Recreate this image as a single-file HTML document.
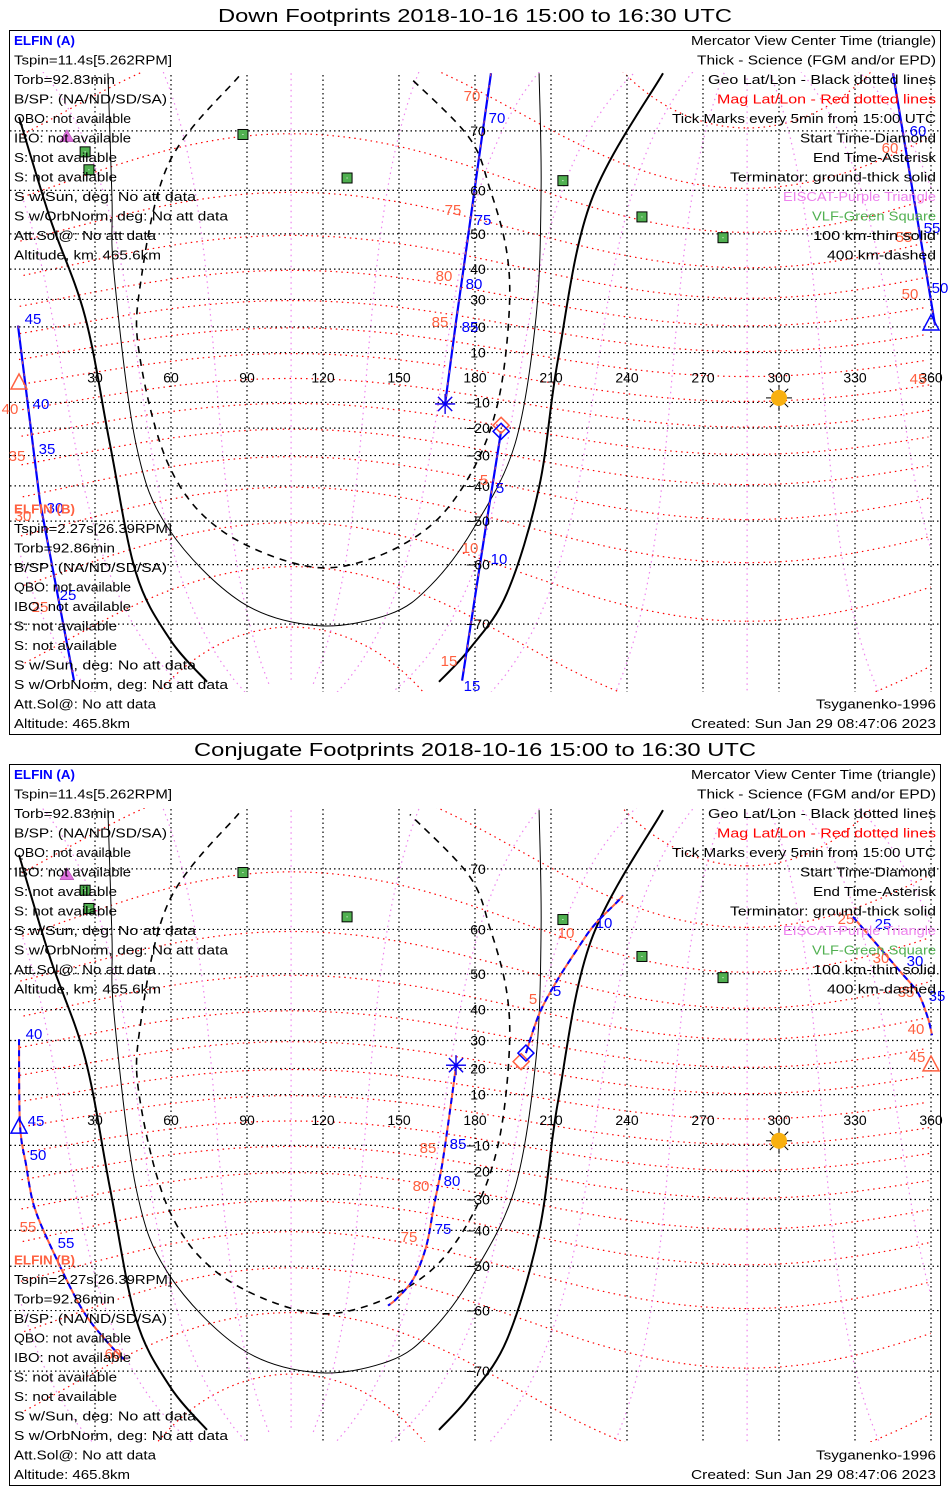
<!DOCTYPE html>
<html><head><meta charset="utf-8">
<style>
html,body{margin:0;padding:0;background:#fff;width:950px;height:1500px;overflow:hidden;position:relative;}
svg{display:block;position:absolute;left:0;top:0;font-family:"Liberation Sans",sans-serif;}
</style></head>
<body>
<svg id="root" xmlns="http://www.w3.org/2000/svg" width="950" height="1500" viewBox="0 0 950 1500" overflow="hidden">
<defs>
<clipPath id="clipTop"><rect x="10" y="72" width="930" height="620"/></clipPath>
<clipPath id="clipBot"><rect x="10" y="808" width="930" height="634"/></clipPath>
</defs>
<rect x="0" y="0" width="950" height="1500" fill="#fff"/>
</svg>
<script>
// ---- chart data (geographic lon/lat, degrees) ----
const lonTicks=[30,60,90,120,150,180,210,240,270,300,330,360];
const latTicks=[70,60,50,40,30,20,10,-10,-20,-30,-40,-50,-60,-70];
const magLatLevels=[-80,-70,-60,-50,-40,-30,-20,-10,0,10,20,30,40,50,60,70,80];
const magLonLevels=[0,30,60,90,120,150,180,210,240,270,300,330];
// terminators / altitude curves
const termL_lon=[0,12.2,26.1,35.9,46.1,59.6,74.2];
const termL_lat=[71.8,54.0,23.8,-25.9,-61.5,-72.0,-76.6];
const termR_lon=[254.2,225.8,212.8,205.3,192.6,178.0,165.8];
const termR_lat=[76.6,57.7,7.5,-40.4,-65.3,-73.1,-76.6];
const thin_lon=[35.1,36.7,37.5,46.2,59.2,87.6,117.6,146.1,162.6,179.2,195.8,204.1,206.1,205.3];
const thin_lat=[76.6,58.3,38.6,-25.9,-52.1,-66.7,-70.2,-68.6,-63.9,-52.1,-25.9,23.8,60.3,76.6];
const dash_lon=[86.8,59.2,47.8,47.8,59.2,79.3,112.5,137.8,162.6,179.2,189.1,193.4,192.6,185.9,177.6,154.3];
const dash_lat=[76.3,65.1,34.5,7.5,-33.5,-52.1,-60.2,-59.0,-51.1,-34.8,-9.8,23.8,44.8,60.3,69.1,76.2];
// tracks, Down footprints
const topA_lon=[186.3,182.0,177.2,172.5,168.2];
const topA_lat=[76.6,67.2,49.0,21.9,-10.6];
const topB_lon=[190.3,184.0,174.9];
const topB_lat=[-21.2,-52.6,-76.5];
const topL_lon=[-0.4,8.3,21.7];
const topL_lat=[20.5,-44.8,-76.5];
const topR_lon=[345.0,361.6];
const topR_lat=[76.6,20.5];
// tracks, Conjugate footprints
const botA_lon=[172.5,170.5,167.0,163.8,160.7,155.5,148.8,145.7];
const botA_lat=[21.2,6.3,-17.5,-32.1,-44.8,-53.3,-57.7,-59.0];
const botB_lon=[200.1,205.3,212.0,220.3,227.0,236.8,238.4];
const botB_lat=[25.6,38.6,47.8,55.8,60.8,65.3,66.1];
const botL_lon=[0,0.4,2.8,5.9,12.6,24.5,34.3,41.8];
const botL_lat=[30.4,-2.0,-17.5,-32.1,-44.8,-59.4,-65.4,-68.5];
const botR_lon=[329.2,336.7,347.8,354.9,358.8,360.4];
const botR_lat=[62.4,58.1,50.6,44.8,37.3,31.8];
// stations
const vlf_lon=[88.4,26.1,27.6,129.5,214.7,245.9,277.9];
const vlf_lat=[69.5,66.9,63.9,62.4,61.9,54.2,49.0];
const eiscat_lon=[19.3,18.9];
const eiscat_lat=[77.4,69.2];
const sun_lon=[300];
const sun_lat=[-8.2];

const NS="http://www.w3.org/2000/svg";
const root=document.getElementById('root');
function mk(tag,attrs,parent){const e=document.createElementNS(NS,tag);for(const k in attrs)e.setAttribute(k,attrs[k]);(parent||root).appendChild(e);return e;}
function xOf(lon){return 19+lon*76/30;}
function yOf(lat,P){return P.eq-P.R*Math.log(Math.tan(Math.PI/4+lat*Math.PI/360));}
function pts(lons,lats,P){return lons.map((l,i)=>xOf(l).toFixed(1)+','+yOf(lats[i],P).toFixed(1)).join(' ');}
function smooth(lons,lats,P){
  const p=lons.map((l,i)=>[xOf(l),yOf(lats[i],P)]);
  let d='M'+p[0][0].toFixed(1)+','+p[0][1].toFixed(1);
  for(let i=0;i<p.length-1;i++){
    const p0=p[Math.max(0,i-1)],p1=p[i],p2=p[i+1],p3=p[Math.min(p.length-1,i+2)];
    const c1=[p1[0]+(p2[0]-p0[0])/6,p1[1]+(p2[1]-p0[1])/6];
    const c2=[p2[0]-(p3[0]-p1[0])/6,p2[1]-(p3[1]-p1[1])/6];
    d+=' C'+c1.map(v=>v.toFixed(1)).join(',')+' '+c2.map(v=>v.toFixed(1)).join(',')+' '+p2[0].toFixed(1)+','+p2[1].toFixed(1);
  }
  return d;
}
function magToGeo(mlat,mlon){
  const d=Math.PI/180,th=9.6*d,ph=-72.6*d;
  const xm=Math.cos(mlat*d)*Math.cos(mlon*d),ym=Math.cos(mlat*d)*Math.sin(mlon*d),zm=Math.sin(mlat*d);
  const x1=xm*Math.cos(th)+zm*Math.sin(th),z1=-xm*Math.sin(th)+zm*Math.cos(th),y1=ym;
  const x=x1*Math.cos(ph)-y1*Math.sin(ph),y=x1*Math.sin(ph)+y1*Math.cos(ph);
  let lon=Math.atan2(y,x)/d;if(lon<0)lon+=360;
  return [lon,Math.asin(Math.max(-1,Math.min(1,z1)))/d];
}
function txt(parent,x,y,s,size,color,anchor,len,name,weight){
  const t=mk('text',{x:x,y:y,'font-size':size,fill:color,'text-anchor':anchor||'start'},parent);
  if(len){t.setAttribute('textLength',len);t.setAttribute('lengthAdjust','spacingAndGlyphs');}
  if(weight)t.setAttribute('font-weight',weight);
  
  
  t.textContent=s;return t;
}

function panel(P){
  const g=mk('g',{});
  
  
  mk('rect',{x:9.5,y:P.top+0.5,width:931,height:P.h,fill:'none',stroke:'#000','stroke-width':1},g);
  txt(g,475,P.top-8,P.title,18,'#000','middle',P.tlen,'chart-title');
  const m=mk('g',{'clip-path':'url(#'+P.clip+')'},g);
  
  
  magLatLevels.forEach(ml=>{
    let segs=[],cur=[],prev=null;
    for(let a=0;a<=360;a+=2){const [lo,la]=magToGeo(ml,a);if(prev!==null&&Math.abs(lo-prev)>180){segs.push(cur);cur=[];}cur.push(xOf(lo).toFixed(1)+','+yOf(la,P).toFixed(1));prev=lo;}
    segs.push(cur);
    segs.forEach(s=>{if(s.length>1){const l=mk('polyline',{points:s.join(' '),fill:'none',stroke:'#ff0000','stroke-width':1.2,'stroke-dasharray':'1.5 4'},m);
      
      }});
  });
  magLonLevels.forEach(ml=>{
    let segs=[],cur=[],prev=null;
    for(let a=-86;a<=86;a+=2){const [lo,la]=magToGeo(a,ml);if(prev!==null&&Math.abs(lo-prev)>180){segs.push(cur);cur=[];}cur.push(xOf(lo).toFixed(1)+','+yOf(la,P).toFixed(1));prev=lo;}
    segs.push(cur);
    segs.forEach(s=>{if(s.length>1){const l=mk('polyline',{points:s.join(' '),fill:'none',stroke:'#ee82ee','stroke-width':1.2,'stroke-dasharray':'1.5 4'},m);
      
      }});
  });
  latTicks.forEach(la=>{const y=yOf(la,P);const l=mk('line',{x1:10,x2:940,y1:y,y2:y,stroke:'#000','stroke-width':1.2,'stroke-dasharray':'1.5 3'},m);
    
    });
  lonTicks.forEach(lo=>{const x=xOf(lo);const l=mk('line',{x1:x,x2:x,y1:P.top,y2:P.top+P.h,stroke:'#000','stroke-width':1.2,'stroke-dasharray':'1.5 3'},m);
    
    });
  let c;
  c=mk('path',{d:smooth(termL_lon,termL_lat,P),fill:'none',stroke:'#000','stroke-width':2},m);
  
  
  c=mk('path',{d:smooth(termR_lon,termR_lat,P),fill:'none',stroke:'#000','stroke-width':2},m);
  
  
  c=mk('path',{d:smooth(thin_lon,thin_lat,P),fill:'none',stroke:'#000','stroke-width':1},m);
  
  
  c=mk('path',{d:smooth(dash_lon,dash_lat,P),fill:'none',stroke:'#000','stroke-width':1.6,'stroke-dasharray':'7 6'},m);
  
  
  P.tracks.forEach(T=>{
    if(P.conj){
      const r=mk('path',{d:smooth(T[0],T[1],P),fill:'none',stroke:'#ff6040','stroke-width':2},m);
      
      
      const b=mk('path',{d:smooth(T[0],T[1],P),fill:'none',stroke:'#0000ff','stroke-width':2,'stroke-dasharray':'6 5'},m);
      
      
    } else {
      const b=mk('polyline',{points:pts(T[0],T[1],P),fill:'none',stroke:'#0000ff','stroke-width':2.2},m);
      
      
      const r=mk('polyline',{points:pts(T[0],T[1],P),fill:'none',stroke:'#ff6040','stroke-width':0.8,'stroke-dasharray':'3 9'},m);
      
      
    }
  });
  vlf_lon.forEach((lo,i)=>{const x=xOf(lo),y=yOf(vlf_lat[i],P);
    const s=mk('rect',{x:x-5,y:y-5,width:10,height:10,fill:'#50b050',stroke:'#000','stroke-width':1},m);
    
    
    mk('rect',{x:x-0.5,y:y-0.5,width:1,height:1,fill:'#fff'},m);});
  eiscat_lon.forEach((lo,i)=>{const x=xOf(lo),y=yOf(eiscat_lat[i],P);
    const s=mk('polygon',{points:`${x},${y-7} ${x-7},${y+5} ${x+7},${y+5}`,fill:'#e070e0',stroke:'#a040a0','stroke-width':0.5},m);
    
    });
  {const x=xOf(sun_lon[0]),y=yOf(sun_lat[0],P);
   for(let k=0;k<8;k++){const a=k*Math.PI/4;mk('line',{x1:x,y1:y,x2:x+13*Math.cos(a),y2:y+13*Math.sin(a),stroke:'#000','stroke-width':1},m);}
   const s=mk('circle',{cx:x,cy:y,r:8,fill:'#f8b010'},m);
   
   }
  P.markers.forEach(M=>{const x=xOf(M.lon),y=yOf(M.lat,P)+(M.dy||0);let e;
    if(M.t==='tri'){e=mk('polygon',{points:`${x},${y-9} ${x-8},${y+6} ${x+8},${y+6}`,fill:'none',stroke:M.c,'stroke-width':1.5},g);}
    else if(M.t==='dia'){e=mk('polygon',{points:`${x},${y-8} ${x+8},${y} ${x},${y+8} ${x-8},${y}`,fill:'none',stroke:M.c,'stroke-width':1.5},g);}
    else {e=mk('g',{},g);for(let k=0;k<4;k++){const a=k*Math.PI/4;mk('line',{x1:x-10*Math.cos(a),y1:y-10*Math.sin(a),x2:x+10*Math.cos(a),y2:y+10*Math.sin(a),stroke:M.c,'stroke-width':1.3},e);}}
    
    });
  lonTicks.forEach(lo=>txt(g,xOf(lo),P.eq+5,String(lo),14,'#000','middle',null,'lon-tick-label'));
  latTicks.forEach(la=>txt(g,478,yOf(la,P)+5,la<0?'\u2212'+(-la):String(la),14,'#000','middle',null,'lat-tick-label'));
  P.tl.forEach(L=>txt(g,L[1],L[2]+6,L[0],15,L[3],'middle',null,'track-time-label'));
  const leftA=['Tspin=11.4s[5.262RPM]','Torb=92.83min','B/SP: (NA/ND/SD/SA)','QBO: not available','IBO: not available','S: not available','S: not available','S w/Sun, deg: No att data','S w/OrbNorm, deg: No att data','Att.Sol@: No att data','Altitude, km: 465.6km'];
  const leftAw=[158,101,153,117,117,103,103,182,214,142,147];
  const leftB=['Tspin=2.27s[26.39RPM]','Torb=92.86min','B/SP: (NA/ND/SD/SA)','QBO: not available','IBO: not available','S: not available','S: not available','S w/Sun, deg: No att data','S w/OrbNorm, deg: No att data','Att.Sol@: No att data','Altitude: 465.8km'];
  const leftBw=[158,101,153,117,117,103,103,182,214,142,116];
  const y0=P.top+10;
  txt(g,14,y0+5,'ELFIN (A)',13,'#0000ff','start',61,'elfin-a-title','bold');
  leftA.forEach((s,i)=>txt(g,14,y0+19.5*(i+1)+5,s,13,'#000','start',leftAw[i],'elfin-a-info'));
  const y1=P.top+P.h-11-19.5*11;
  txt(g,14,y1+5,'ELFIN (B)',13,'#ff6040','start',61,'elfin-b-title','bold');
  leftB.forEach((s,i)=>txt(g,14,y1+19.5*(i+1)+5,s,13,'#000','start',leftBw[i],'elfin-b-info'));
  const right=[['Mercator View Center Time (triangle)',245,'#000'],['Thick - Science (FGM and/or EPD)',239,'#000'],['Geo Lat/Lon - Black dotted lines',228,'#000'],['Mag Lat/Lon - Red dotted lines',219,'#ff0000'],['Tick Marks every 5min from 15:00 UTC',264,'#000'],['Start Time-Diamond',136,'#000'],['End Time-Asterisk',123,'#000'],['Terminator: ground-thick solid',206,'#000'],['EISCAT-Purple Triangle',153,'#ee82ee'],['VLF-Green Square',124,'#50b050'],['100 km-thin solid',123,'#000'],['400 km-dashed',109,'#000']];
  right.forEach((r,i)=>txt(g,936,y0+19.5*i+5,r[0],13,r[2],'end',r[1],'legend-entry'));
  txt(g,936,y1+19.5*10+5,'Tsyganenko-1996',13,'#000','end',120,'model-label');
  txt(g,936,y1+19.5*11+5,'Created: Sun Jan 29 08:47:06 2023',13,'#000','end',245,'created-timestamp');
}

const B='#0000ff',O='#ff6040';
panel({name:'down-footprints-panel',title:'Down Footprints 2018-10-16 15:00 to 16:30 UTC',tlen:514,top:30,h:704,eq:377.5,R:142.1,clip:'clipTop',conj:false,
  tracks:[[topA_lon,topA_lat],[topB_lon,topB_lat],[topL_lon,topL_lat],[topR_lon,topR_lat]],
  markers:[{t:'ast',lon:168.2,lat:-10.6,c:O,n:'end-asterisk-b'},{t:'ast',lon:168.2,lat:-10.6,c:B,n:'end-asterisk-a'},
    {t:'dia',lon:190.3,lat:-21.2,dy:-6,c:O,n:'start-diamond-b'},{t:'dia',lon:190.3,lat:-21.2,c:B,n:'start-diamond-a'},
    {t:'tri',lon:0,lat:-2.2,c:O,n:'center-triangle-b'},{t:'tri',lon:360,lat:21.1,c:B,n:'center-triangle-a'}],
  tl:[['70',497,117,B],['75',483,219,B],['80',474,283,B],['85',470,326,B],['70',472,95,O],['75',453,209,O],['80',444,275,O],['85',440,321,O],
      ['5',500,487,B],['10',499,558,B],['15',472,685,B],['5',484,479,O],['10',470,547,O],['15',449,660,O],
      ['45',33,318,B],['40',41,403,B],['35',47,448,B],['30',55,507,B],['25',68,594,B],['40',10,408,O],['35',17,455,O],['30',23,515,O],['25',40,606,O],
      ['60',918,130,B],['55',932,227,B],['50',940,287,B],['60',890,147,O],['55',904,236,O],['50',910,293,O],['45',918,378,O]]});
panel({name:'conjugate-footprints-panel',title:'Conjugate Footprints 2018-10-16 15:00 to 16:30 UTC',tlen:562,top:764,h:721,eq:1120,R:144.7,clip:'clipBot',conj:true,
  tracks:[[botA_lon,botA_lat],[botB_lon,botB_lat],[botL_lon,botL_lat],[botR_lon,botR_lat]],
  markers:[{t:'ast',lon:172.5,lat:21.2,c:O,n:'end-asterisk-b'},{t:'ast',lon:172.5,lat:21.2,c:B,n:'end-asterisk-a'},
    {t:'dia',lon:198.2,lat:22.5,c:O,n:'start-diamond-b'},{t:'dia',lon:200.1,lat:25.6,c:B,n:'start-diamond-a'},
    {t:'tri',lon:0,lat:-2.8,c:B,n:'center-triangle-a'},{t:'tri',lon:360,lat:21.3,c:O,n:'center-triangle-b'}],
  tl:[['85',458,1143,B],['80',452,1180,B],['75',443,1228,B],['85',428,1147,O],['80',421,1185,O],['75',409,1236,O],
      ['5',557,990,B],['10',604,922,B],['5',533,998,O],['10',566,932,O],
      ['40',34,1033,B],['45',36,1120,B],['50',38,1154,B],['55',66,1242,B],['55',28,1226,O],['60',113,1353,O],
      ['25',883,923,B],['30',915,960,B],['35',937,995,B],['25',846,918,O],['30',881,957,O],['35',906,991,O],['40',916,1028,O],['45',917,1056,O]]});
</script>
</body></html>
